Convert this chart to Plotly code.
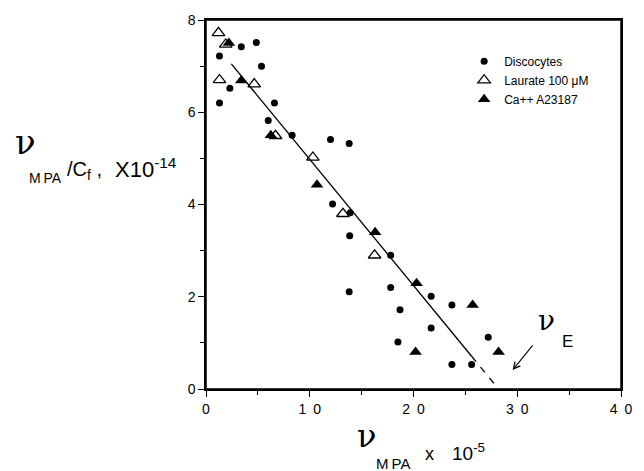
import plotly.graph_objects as go

# Discocytes (filled circles)
disc_x = [3.4, 4.85, 1.3, 5.35, 2.3, 1.3, 6.6, 6.0, 8.3, 12.0, 13.8, 12.2, 13.9, 13.85, 17.8, 13.8, 17.8, 18.7, 18.5, 21.7, 21.7, 23.7, 23.7, 25.6, 27.2]
disc_y = [7.42, 7.51, 7.22, 7.0, 6.52, 6.2, 6.2, 5.82, 5.5, 5.41, 5.32, 4.01, 3.82, 3.32, 2.9, 2.11, 2.2, 1.72, 1.02, 2.01, 1.32, 1.82, 0.53, 0.53, 1.12]

# Laurate 100 uM (open triangles)
laur_x = [1.2, 1.9, 1.3, 4.65, 6.7, 10.3, 13.2, 16.25]
laur_y = [7.72, 7.47, 6.7, 6.61, 5.49, 5.02, 3.8, 2.9]

# Ca++ A23187 (filled triangles)
ca_x = [2.2, 3.4, 6.25, 10.7, 16.3, 20.3, 20.2, 25.7, 28.2]
ca_y = [7.5, 6.69, 5.5, 4.43, 3.4, 2.29, 0.8, 1.82, 0.8]

# regression line (solid part and dashed extrapolation)
fit_x = [2.44, 25.6]
fit_y = [7.05, 0.71]
ext_x = [25.6, 28.2]
ext_y = [0.71, 0.0]

x_range = [0, 40]
y_range = [0, 8]
x_tickvals = [0, 10, 20, 30, 40]
x_ticktext = ["0", "1\u20020", "2\u20020", "3\u20020", "4\u20020"]
y_tickvals = [0, 2, 4, 6, 8]
y_ticktext = ["0", "2", "4", "6", "8"]

FONT = "Liberation Sans, Arial, sans-serif"
GLYPH = "DejaVu Serif"

fig = go.Figure()
fig.add_trace(go.Scatter(x=fit_x, y=fit_y, mode="lines", line=dict(color="black", width=1.3),
                         showlegend=False, hoverinfo="skip"))
fig.add_trace(go.Scatter(x=ext_x, y=ext_y, mode="lines", line=dict(color="black", width=1.3, dash="7px,7px"),
                         showlegend=False, hoverinfo="skip"))
fig.add_trace(go.Scatter(x=disc_x, y=disc_y, mode="markers", name="Discocytes",
                         marker=dict(symbol="circle", size=7, color="black")))
fig.add_trace(go.Scatter(x=laur_x, y=laur_y, mode="markers",
                         name="Laurate 100 μM",
                         marker=dict(symbol="triangle-up-open", size=11, color="black",
                                     line=dict(width=1.3, color="black"))))
fig.add_trace(go.Scatter(x=ca_x, y=ca_y, mode="markers", name="Ca++ A23187",
                         marker=dict(symbol="triangle-up", size=11, color="black")))

W, H = 644, 471
L, R, T, B = 206, 12, 16, 82
pw, ph = W - L - R, H - T - B

def px(xp):
    return (xp - L) / pw

def py(yp):
    return (H - B - yp) / ph

def label(text, xp, yp, size, family=FONT):
    return dict(text=text, x=px(xp), y=py(yp), xref="paper", yref="paper", showarrow=False,
                xanchor="left", yanchor="middle", font=dict(size=size, family=family, color="black"))

ann = [
    # y-axis title
    label("ν", 8, 139, 34, GLYPH),
    label("M\u2009PA", 22, 176, 14),
    label("/C<sub>f</sub> ,", 61, 168, 20),
    label("X10<sup>-14</sup>", 111, 166, 22),
    # x-axis title
    label("ν", 359, 437, 32, GLYPH),
    label("M\u2009PA", 378, 464, 15),
    label("x", 429, 455, 18),
    label("10<sup>-5</sup>", 456, 453, 19),
    # nu_E marker
    label("ν", 545, 320, 28, GLYPH),
    label("E", 569, 341, 17),
    dict(text="", x=29.55, y=0.41, xref="x", yref="y", ax=31.6, ay=0.98, axref="x", ayref="y",
         showarrow=True, arrowhead=5, arrowsize=1.2, arrowwidth=1.1, arrowcolor="black"),
]

fig.update_layout(
    width=W, height=H,
    margin=dict(l=L, r=R, t=T, b=B),
    paper_bgcolor="white", plot_bgcolor="white",
    font=dict(family=FONT, size=13, color="black"),
    showlegend=True,
    legend=dict(x=px(471), y=py(43), xanchor="left", yanchor="top", bgcolor="rgba(0,0,0,0)",
                font=dict(size=12, family=FONT), itemwidth=30, tracegroupgap=0),
    annotations=ann,
    shapes=[dict(type="rect", xref="paper", yref="paper", x0=0, y0=0, x1=1, y1=1,
                 line=dict(color="black", width=1.5), layer="above")],
)
fig.update_xaxes(range=x_range, tickvals=x_tickvals, ticktext=x_ticktext, ticks="outside", ticklen=6,
                 tickwidth=1, tickcolor="black", showline=True, linecolor="black", linewidth=1.5,
                 mirror=True, showgrid=False, zeroline=False, tickfont=dict(size=14),
                 minor=dict(tickvals=[5, 15, 25, 35], ticks="outside", ticklen=4, tickcolor="black"))
fig.update_yaxes(range=y_range, tickvals=y_tickvals, ticktext=y_ticktext, ticks="outside", ticklen=6,
                 tickwidth=1, tickcolor="black", showline=True, linecolor="black", linewidth=1.5,
                 mirror=True, showgrid=False, zeroline=False, tickfont=dict(size=14),
                 minor=dict(tickvals=[1, 3, 5, 7], ticks="outside", ticklen=4, tickcolor="black"))

fig.write_html("out.html", config={"displayModeBar": False},
               post_script="document.body.style.margin='0';")
